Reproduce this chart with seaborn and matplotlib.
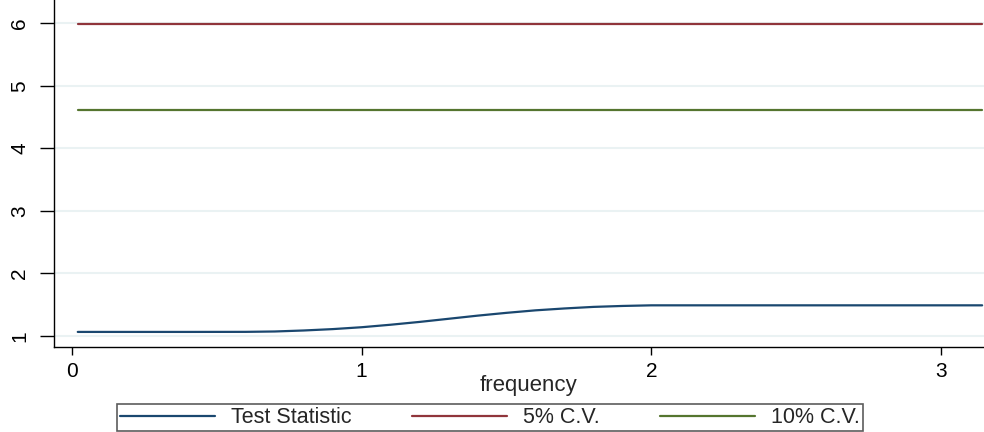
import numpy as np
import pandas as pd
import seaborn as sns
import matplotlib
matplotlib.use("Agg")
import matplotlib.pyplot as plt
from matplotlib.lines import Line2D

frequency = [0.02, 0.2, 0.4, 0.6, 0.7, 0.8, 0.9, 1.0, 1.1, 1.2, 1.3, 1.4, 1.5,
             1.6, 1.7, 1.8, 1.9, 2.0, 2.5, 3.0, 3.1416]
test_statistic = [1.065, 1.065, 1.065, 1.066, 1.072, 1.088, 1.11, 1.14, 1.18, 1.225,
                  1.275, 1.325, 1.37, 1.41, 1.44, 1.465, 1.48, 1.49, 1.49, 1.49, 1.49]
cv5 = 5.99
cv10 = 4.61
series_names = ["Test Statistic", "5% C.V.", "10% C.V."]
colors = ["#1a476f", "#90353b", "#55752f"]

n = len(frequency)
df = pd.DataFrame({
    "frequency": frequency * 3,
    "value": test_statistic + [cv5] * n + [cv10] * n,
    "series": [series_names[0]] * n + [series_names[1]] * n + [series_names[2]] * n,
})

sns.set_style("white")
plt.rcParams["font.family"] = ["Liberation Sans", "DejaVu Sans"]

fig = plt.figure(figsize=(9.84, 4.32), dpi=100)
ax = fig.add_axes([54 / 984, 1 - 347 / 432, 1 - 54 / 984, 347 / 432])

sns.lineplot(data=df, x="frequency", y="value", hue="series",
             palette=dict(zip(series_names, colors)), linewidth=1.6, ax=ax,
             legend=False)

ax.set_xlim(-0.062, 3.148)
ax.set_ylim(0.824, 6.37)
ax.set_yticks([1, 2, 3, 4, 5, 6])
ax.set_xticks([0, 1, 2, 3])
ax.yaxis.grid(True, color="#eaf2f3", linewidth=1.5)
ax.xaxis.grid(False)
ax.set_axisbelow(True)
for s in ["top", "right"]:
    ax.spines[s].set_visible(False)
for s in ["left", "bottom"]:
    ax.spines[s].set_color("black")
    ax.spines[s].set_linewidth(1.0)
ax.tick_params(axis="both", direction="out", width=1, color="black",
               labelsize=15, labelcolor="black", left=True, bottom=True)
ax.tick_params(axis="y", length=10, pad=8)
ax.tick_params(axis="x", length=6, pad=5)
for lab in ax.get_yticklabels():
    lab.set_rotation(90)
    lab.set_va("center")
ax.set_xlabel("frequency", fontsize=16)
ax.xaxis.set_label_coords((528 - 54) / 930, -(385 - 347) / 347)
ax.xaxis.label.set_va("center")
ax.set_ylabel("")

handles = [Line2D([], [], color=c, linewidth=1.6) for c in colors]
leg = fig.legend(handles, series_names, loc="upper left",
                 bbox_to_anchor=(117 / 984, 1 - 404 / 432), ncol=3, frameon=True,
                 fancybox=False, edgecolor="black", fontsize=15.5,
                 handlelength=4.4, handletextpad=0.75, columnspacing=2.8,
                 borderpad=0.15, borderaxespad=0)
leg.get_frame().set_linewidth(1.2)
leg.get_frame().set_edgecolor("#333333")

fig.savefig("out.png", dpi=100)
